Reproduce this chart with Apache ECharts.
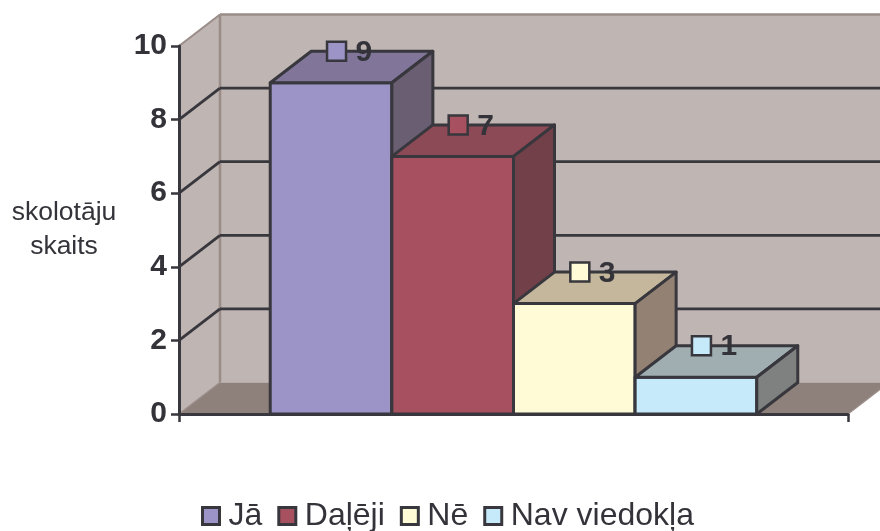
<!DOCTYPE html>
<html>
<head>
<meta charset="utf-8">
<style>html,body{margin:0;padding:0;background:#fff}#c{width:880px;height:531px}</style>
<script src="https://cdn.jsdelivr.net/npm/echarts@6/dist/echarts.min.js"></script>
</head>
<body>
<div id="c"></div>
<script>
const categories = ['Jā', 'Daļēji', 'Nē', 'Nav viedokļa'];
const values = [9, 7, 3, 1];
const yTicks = [0, 2, 4, 6, 8, 10];
const axisTitle = 'skolotāju\nskaits';

const frontColors = ['#9C94C7', '#A65060', '#FFFBD6', '#C7EAFB'];
const topColors = ['#81769A', '#8B4A56', '#C4B79B', '#A0AEB2'];
const sideColors = ['#6A5E72', '#714049', '#938273', '#7F8080'];

const INK = '#37373D', TEXT = '#333339', FONT = '"Liberation Sans", Arial, sans-serif';
const WALL = '#BFB5B2', FLOOR = '#8E807A', EDGE = '#9A8C88';
const DX = 41, DY = -31.5, LEAD = 0.75, XMAX = 5.5;

const back = p => [p[0] + DX, p[1] + DY];
const poly = (points, fill, stroke, w) => ({
  type: 'polygon', shape: { points },
  style: { fill, stroke: stroke || null, lineWidth: w || 0, lineJoin: 'round' }
});
const line = (a, b, stroke, w) => ({
  type: 'line', shape: { x1: a[0], y1: a[1], x2: b[0], y2: b[1] },
  style: { stroke, lineWidth: w, fill: null }
});

function renderWalls(params, api) {
  const bl = api.coord([0, 0]), tl = api.coord([0, 10]);
  const br = api.coord([XMAX, 0]), tr = api.coord([XMAX, 10]);
  const kids = [
    poly([bl, tl, back(tl), back(bl)], WALL),
    poly([back(bl), back(tl), back(tr), back(br)], WALL),
    poly([bl, back(bl), back(br), br], FLOOR),
    line(back(tl), back(bl), EDGE, 2.5),
    line(back(tl), back(tr), EDGE, 2.5),
    line(tl, back(tl), EDGE, 2),
    line(bl, back(bl), EDGE, 1.5),
    line(br, back(br), EDGE, 1.5)
  ];
  yTicks.filter(t => t > 0 && t < 10).forEach(t => {
    const a = api.coord([0, t]), b = api.coord([XMAX, t]);
    kids.push(line(a, back(a), INK, 2.8), line(back(a), back(b), INK, 2.8));
  });
  return { type: 'group', children: kids };
}

function makeBar(idx) {
  return function (params, api) {
    const i = api.value(0), v = api.value(1);
    const fl = api.coord([i + LEAD, v]), fr = api.coord([i + 1 + LEAD, v]);
    const bl = api.coord([i + LEAD, 0]), br = api.coord([i + 1 + LEAD, 0]);
    const w = 3;
    const mx = (fl[0] + fr[0]) / 2 + 5.5, my = fl[1] + DY;
    return {
      type: 'group',
      children: [
        poly([fl, fr, br, bl], frontColors[idx], INK, w),
        poly([fl, back(fl), back(fr), fr], topColors[idx], INK, w),
        poly([fr, back(fr), back(br), br], sideColors[idx], INK, w),
        { type: 'rect', shape: { x: mx - 9.5, y: my - 9.5, width: 19, height: 19 },
          style: { fill: frontColors[idx], stroke: INK, lineWidth: 2.5 } },
        { type: 'text', x: mx + 19, y: my + 1.5,
          style: { text: String(v), fill: TEXT, font: 'bold 30px ' + FONT,
                   textAlign: 'left', textVerticalAlign: 'middle' } }
      ]
    };
  };
}

const series = [{
  type: 'custom', name: '_walls', silent: true, z: 1,
  data: [[0, 0]], renderItem: renderWalls
}];
categories.forEach((name, idx) => {
  series.push({
    type: 'custom', name, silent: true, z: 2 + idx,
    itemStyle: { color: frontColors[idx] },
    data: [[idx, values[idx]]],
    encode: { x: 0, y: 1 },
    renderItem: makeBar(idx)
  });
});

const chart = echarts.init(document.getElementById('c'), null, { renderer: 'canvas' });
chart.setOption({
  animation: false,
  backgroundColor: '#fff',
  grid: { left: 179, right: 32, top: 46, bottom: 117, containLabel: false },
  xAxis: {
    type: 'value', min: 0, max: XMAX, interval: XMAX, z: 20,
    splitLine: { show: false },
    axisLine: { show: true, onZero: false, lineStyle: { color: INK, width: 3 } },
    axisTick: { show: true, length: 8, lineStyle: { color: INK, width: 2.5 } },
    axisLabel: { show: false }
  },
  yAxis: {
    type: 'value', min: 0, max: 10, interval: 2, z: 20,
    name: axisTitle, nameLocation: 'middle', nameRotate: 0, nameGap: 115,
    nameTextStyle: { fontFamily: FONT, fontSize: 26.5, color: TEXT, lineHeight: 34, align: 'center', verticalAlign: 'middle', padding: [3, 0, 0, 0] },
    splitLine: { show: false },
    axisLine: { show: true, onZero: false, lineStyle: { color: INK, width: 3 } },
    axisTick: { show: true, length: 8, lineStyle: { color: INK, width: 2.5 } },
    axisLabel: { margin: 12, fontFamily: FONT, fontSize: 30, fontWeight: 'bold', color: TEXT, padding: [2, 0, 0, 0] }
  },
  legend: {
    left: 196, top: 495, orient: 'horizontal', selectedMode: false,
    itemWidth: 17, itemHeight: 17, itemGap: 15,
    textStyle: { fontFamily: FONT, fontSize: 32, color: TEXT, padding: [10, 0, 0, 4] },
    data: categories.map((name, idx) => ({
      name, icon: 'rect',
      itemStyle: { color: frontColors[idx], borderColor: INK, borderWidth: 3 }
    }))
  },
  series
});
</script>
</body>
</html>
